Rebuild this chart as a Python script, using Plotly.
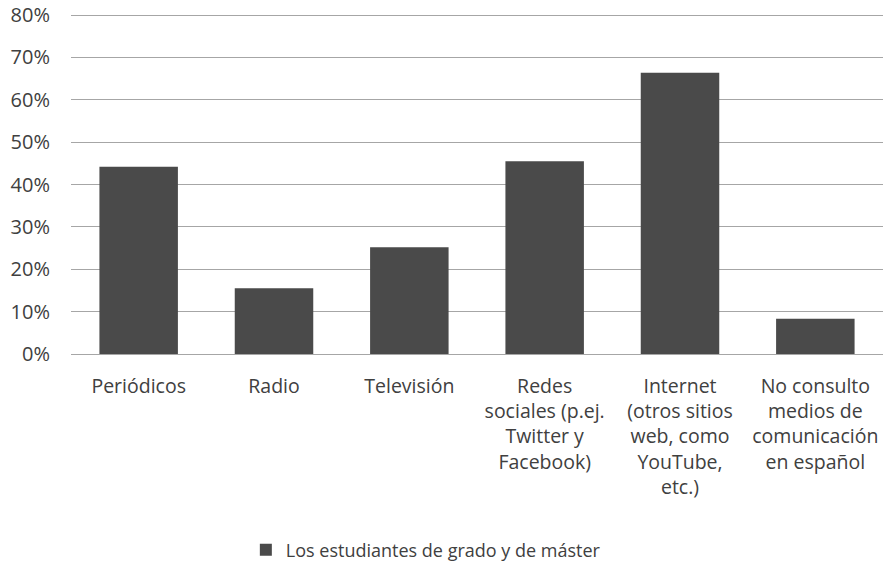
import plotly.graph_objects as go

categories = [
    "Periódicos",
    "Radio",
    "Televisión",
    "Redes<br>sociales (p.ej.<br>Twitter y<br>Facebook)",
    "Internet<br>(otros sitios<br>web, como<br>YouTube,<br>etc.)",
    "No consulto<br>medios de<br>comunicación<br>en español",
]
values = [0.442, 0.155, 0.252, 0.455, 0.664, 0.083]
series_name = "Los estudiantes de grado y de máster"
y_ticks = [0, 0.1, 0.2, 0.3, 0.4, 0.5, 0.6, 0.7, 0.8]
y_tick_labels = ["0%", "10%", "20%", "30%", "40%", "50%", "60%", "70%", "80%"]

FONT = "Open Sans, Liberation Sans, sans-serif"
TEXT = "#404040"

fig = go.Figure(
    go.Bar(
        x=categories,
        y=values,
        name=series_name,
        marker=dict(color="#4a4a4a", line=dict(width=0)),
        showlegend=True,
    )
)

fig.update_layout(
    width=885,
    height=565,
    margin=dict(l=71, r=2, t=13.4, b=210.5, autoexpand=False),
    paper_bgcolor="white",
    plot_bgcolor="white",
    bargap=0.42,
    font=dict(family=FONT, size=20, color=TEXT),
    showlegend=True,
    legend=dict(
        orientation="h",
        x=0.437,
        xanchor="center",
        y=-0.575,
        yanchor="middle",
        font=dict(family=FONT, size=18, color=TEXT),
        itemwidth=30,
    ),
    xaxis=dict(
        automargin=False,
        showgrid=False,
        showline=False,
        ticks="",
        tickfont=dict(family=FONT, size=19.5, color=TEXT),
        ticklabelstandoff=18,
        ticklabeloverflow="allow",
    ),
    yaxis=dict(
        automargin=False,
        range=[0, 0.805],
        tickvals=y_ticks,
        ticktext=y_tick_labels,
        showgrid=True,
        gridcolor="#a6a6a6",
        gridwidth=1,
        zeroline=True,
        zerolinecolor="#a6a6a6",
        zerolinewidth=1,
        showline=False,
        ticks="",
        tickfont=dict(family=FONT, size=20, color=TEXT),
        ticklabelstandoff=20,
        ticklabeloverflow="allow",
    ),
)

fig.write_html(
    "out.html",
    config={"displayModeBar": False},
    post_script="document.body.style.margin='0';",
)
